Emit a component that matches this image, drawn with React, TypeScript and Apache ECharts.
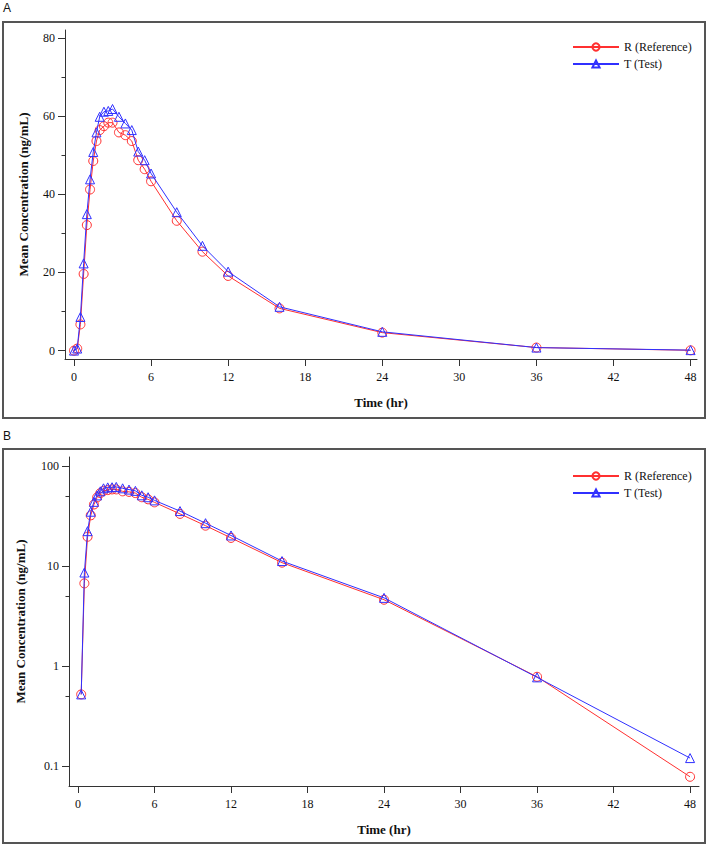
import React, { useEffect, useRef } from 'react';
import * as echarts from 'echarts';

// Sampling times (hr)
const times = [0, 0.25, 0.5, 0.75, 1, 1.25, 1.5, 1.75, 2, 2.33, 2.67, 3, 3.5, 4, 4.5, 5, 5.5, 6, 8, 10, 12, 16, 24, 36, 48];
// Mean concentrations (ng/mL)
const refConc = [0, 0.52, 6.7, 19.6, 32.1, 41.2, 48.5, 53.6, 56.4, 57.4, 58.3, 58.3, 55.8, 55.1, 53.6, 48.7, 46.4, 43.3, 33.2, 25.3, 19.1, 10.8, 4.6, 0.78, 0.078];
const testConc = [0, 0.52, 8.6, 22.3, 34.9, 43.8, 50.8, 55.8, 59.8, 61.1, 61.3, 61.8, 59.8, 58.1, 56.4, 50.9, 48.7, 45.3, 35.4, 26.8, 20.2, 11.2, 4.8, 0.77, 0.12];

const seriesNames = ['R (Reference)', 'T (Test)'];
const xTicks = [0, 6, 12, 18, 24, 30, 36, 42, 48];
const linTicks = [0, 20, 40, 60, 80];
const linMinorTicks = [10, 30, 50, 70];
const logTicks = [0.1, 1, 10, 100];
const logMinorTicks = [0.5, 5, 50];

const SERIF = '"Liberation Serif", "DejaVu Serif", serif';
const RED = '#ff3030';
const BLUE = '#3030ff';
const AXIS = '#333333';

function pairs(vals: number[], positiveOnly: boolean) {
  const out: number[][] = [];
  times.forEach((t, i) => {
    if (!positiveOnly || vals[i] > 0) out.push([t, vals[i]]);
  });
  return out;
}

export default function App() {
  const ref = useRef<HTMLDivElement>(null);
  useEffect(() => {
    if (!ref.current) return;
    const chart = echarts.init(ref.current, undefined, { renderer: 'svg' });

    const labelStyle = { color: '#111', fontFamily: SERIF, fontSize: 12 };
    const nameStyle = { color: '#111', fontFamily: SERIF, fontSize: 13, fontWeight: 'bold' as const };

    const gridRects = [
      { left: 65, top: 30, width: 632, height: 329 },
      { left: 69, top: 457, width: 630, height: 329 },
    ];
    const xRangeA: [number, number] = [-0.7, 48.5];
    const xRangeB: [number, number] = [-0.706, 48.7];
    const yRangeA: [number, number] = [-2.15, 82];
    const yRangeB: [number, number] = [0.0631, 123];

    const xAxisBase = (gridIndex: number, range: [number, number]) => ({
      type: 'value' as const,
      gridIndex,
      min: range[0],
      max: range[1],
      name: 'Time (hr)',
      nameLocation: 'middle' as const,
      nameGap: 37,
      nameTextStyle: nameStyle,
      axisLine: { show: true, onZero: false, lineStyle: { color: AXIS, width: 1 } },
      axisTick: { show: true, length: 7, customValues: xTicks, lineStyle: { color: AXIS } },
      axisLabel: { show: true, margin: 12, customValues: xTicks, ...labelStyle },
      splitLine: { show: false },
    });

    const mkSeries = (name: string, vals: number[], idx: number, log: boolean, color: string, symbol: string) => ({
      type: 'line' as const,
      name,
      xAxisIndex: idx,
      yAxisIndex: idx,
      data: pairs(vals, log),
      symbol,
      symbolSize: 9,
      showAllSymbol: true,
      color,
      lineStyle: { color, width: 1 },
      itemStyle: { color: 'rgba(255,255,255,0)', borderColor: color, borderWidth: 1 },
      emphasis: { disabled: true },
      z: name === seriesNames[1] ? 3 : 2,
    });

    const legendBase = (top: number) => ({
      orient: 'vertical' as const,
      left: 567,
      top,
      itemWidth: 46,
      itemHeight: 9,
      itemGap: 5,
      data: seriesNames,
      textStyle: { color: '#111', fontFamily: SERIF, fontSize: 12 },
    });

    const staticGraphics: any[] = [
      { id: 'boxA', type: 'rect', shape: { x: 3, y: 22, width: 702, height: 396 }, style: { fill: 'none', stroke: '#555', lineWidth: 2 }, silent: true },
      { id: 'boxB', type: 'rect', shape: { x: 3, y: 449, width: 702, height: 394 }, style: { fill: 'none', stroke: '#555', lineWidth: 2 }, silent: true },
      { id: 'lblA', type: 'text', x: 3, y: 2, style: { text: 'A', fill: '#111', font: '12px "Liberation Sans", Arial, sans-serif' }, silent: true },
      { id: 'lblB', type: 'text', x: 3, y: 430, style: { text: 'B', fill: '#111', font: '12px "Liberation Sans", Arial, sans-serif' }, silent: true },
    ];

    chart.setOption({
      animation: false,
      backgroundColor: '#ffffff',
      grid: gridRects.map((g) => ({ ...g, containLabel: false })),
      legend: [legendBase(36), legendBase(465)],
      xAxis: [xAxisBase(0, xRangeA), xAxisBase(1, xRangeB)],
      yAxis: [
        {
          type: 'value',
          gridIndex: 0,
          min: yRangeA[0],
          max: yRangeA[1],
          position: 'left',
          name: 'Mean Concentration (ng/mL)',
          nameLocation: 'middle',
          nameGap: 35,
          nameTextStyle: nameStyle,
          axisLine: { show: true, onZero: false, lineStyle: { color: AXIS, width: 1 } },
          axisTick: { show: true, length: 7, customValues: linTicks, lineStyle: { color: AXIS } },
          axisLabel: { show: true, margin: 10, customValues: linTicks, ...labelStyle },
          splitLine: { show: false },
        },
        {
          type: 'log',
          logBase: 10,
          gridIndex: 1,
          min: yRangeB[0],
          max: yRangeB[1],
          position: 'left',
          name: 'Mean Concentration (ng/mL)',
          nameLocation: 'middle',
          nameGap: 42,
          nameTextStyle: nameStyle,
          axisLine: { show: true, onZero: false, lineStyle: { color: AXIS, width: 1 } },
          axisTick: { show: true, length: 7, customValues: logTicks, lineStyle: { color: AXIS } },
          axisLabel: { show: true, margin: 10, customValues: logTicks, ...labelStyle },
          splitLine: { show: false },
          minorTick: { show: false },
        },
      ],
      series: [
        mkSeries(seriesNames[0], refConc, 0, false, RED, 'circle'),
        mkSeries(seriesNames[1], testConc, 0, false, BLUE, 'triangle'),
        mkSeries(seriesNames[0], refConc, 1, true, RED, 'circle'),
        mkSeries(seriesNames[1], testConc, 1, true, BLUE, 'triangle'),
      ],
      graphic: staticGraphics,
    });

    // Minor ticks on the y axes, placed through the library's own y-axis scales
    const minorTickEls: any[] = [];
    const addMinor = (idx: number, values: number[]) => {
      const axisX = gridRects[idx].left + 0.5;
      values.forEach((v, k) => {
        const py = chart.convertToPixel({ yAxisIndex: idx }, v) as unknown as number;
        if (typeof py !== 'number' || !isFinite(py)) return;
        const y = Math.round(py) + 0.5;
        minorTickEls.push({
          id: `minor-${idx}-${k}`,
          type: 'line',
          z: 100,
          shape: { x1: axisX - 4, y1: y, x2: axisX, y2: y },
          style: { stroke: AXIS, lineWidth: 1 },
          silent: true,
        });
      });
    };
    addMinor(0, linMinorTicks);
    addMinor(1, logMinorTicks);
    chart.setOption({ graphic: [...staticGraphics, ...minorTickEls] });

    return () => chart.dispose();
  }, []);

  return (
    <div
      ref={ref}
      style={{ position: 'absolute', left: 0, top: 0, width: 708, height: 845, background: '#fff' }}
    />
  );
}
